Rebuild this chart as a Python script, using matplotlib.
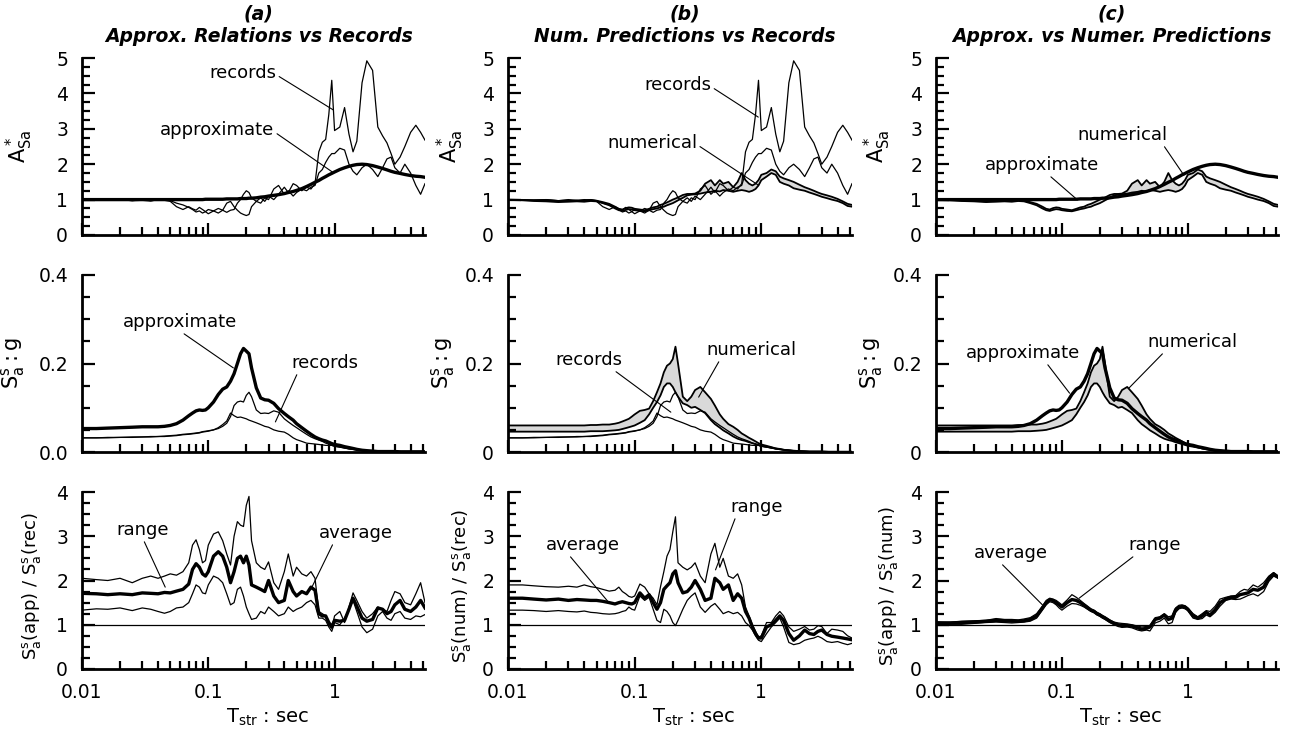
import numpy as np
import matplotlib
matplotlib.use('Agg')
import matplotlib.pyplot as plt
from matplotlib.ticker import FixedLocator, FixedFormatter, MultipleLocator, LogLocator, NullFormatter

plt.rcParams['font.family'] = ['DejaVu Sans']
plt.rcParams['mathtext.fontset'] = 'dejavusans'

# structural period grid (sec), shared by every curve
T = [0.010, 0.013, 0.016, 0.020, 0.025, 0.030, 0.035, 0.040, 0.045, 0.050,
     0.056, 0.063, 0.070, 0.075, 0.080, 0.085, 0.090, 0.095, 0.100, 0.110,
     0.120, 0.130, 0.140, 0.150, 0.160, 0.170, 0.180, 0.190, 0.200, 0.210,
     0.220, 0.240, 0.260, 0.280, 0.300, 0.330, 0.360, 0.400, 0.430, 0.470,
     0.500, 0.550, 0.600, 0.650, 0.700, 0.750, 0.800, 0.850, 0.900, 0.950,
     1.00, 1.10, 1.20, 1.30, 1.40, 1.50, 1.65, 1.80, 2.00, 2.20,
     2.40, 2.60, 2.80, 3.00, 3.30, 3.60, 4.00, 4.40, 4.80, 5.20]

# ---- top row : A*_Sa ----
amp_approx = [1.00, 1.00, 1.00, 1.00, 1.00, 1.00, 1.00, 1.00, 1.00, 1.00,
              1.00, 1.00, 1.00, 1.00, 1.00, 1.00, 1.00, 1.01, 1.01, 1.01,
              1.01, 1.01, 1.02, 1.02, 1.02, 1.02, 1.03, 1.03, 1.03, 1.04,
              1.04, 1.05, 1.07, 1.08, 1.10, 1.12, 1.14, 1.17, 1.20, 1.23,
              1.26, 1.31, 1.37, 1.43, 1.49, 1.54, 1.60, 1.65, 1.70, 1.74,
              1.78, 1.85, 1.90, 1.94, 1.97, 1.99, 2.00, 1.99, 1.96, 1.92,
              1.88, 1.84, 1.80, 1.77, 1.74, 1.71, 1.68, 1.66, 1.65, 1.63]
amp_rec1 = [1.00, 0.98, 0.99, 1.00, 0.97, 0.98, 0.96, 1.00, 0.98, 0.95,
            0.80, 0.72, 0.80, 0.74, 0.70, 0.78, 0.72, 0.66, 0.72, 0.68,
            0.75, 0.70, 0.90, 0.95, 0.80, 0.70, 0.62, 0.58, 0.55, 0.58,
            0.80, 0.95, 1.05, 0.95, 1.10, 1.00, 1.15, 1.35, 1.20, 1.45,
            1.40, 1.25, 1.35, 1.30, 1.45, 2.35, 2.62, 2.70, 3.40, 4.37,
            2.95, 3.05, 3.60, 2.85, 2.35, 2.65, 4.30, 4.92, 4.65, 3.05,
            2.80, 2.60, 2.30, 2.00, 2.20, 2.50, 2.90, 3.10, 2.90, 2.68]
amp_rec2 = [1.00, 1.00, 0.98, 1.00, 0.97, 1.00, 0.97, 0.99, 1.00, 0.97,
            0.90, 0.85, 0.78, 0.72, 0.65, 0.68, 0.62, 0.66, 0.60, 0.68,
            0.62, 0.70, 0.64, 0.70, 0.72, 0.90, 1.00, 1.15, 1.25, 1.20,
            1.05, 0.95, 0.90, 1.05, 1.00, 1.30, 1.40, 1.15, 1.25, 1.10,
            1.20, 1.30, 1.25, 1.35, 1.40, 1.75, 1.85, 2.05, 2.20, 2.30,
            2.30, 2.45, 2.40, 2.00, 1.80, 1.70, 1.90, 2.00, 1.85, 1.65,
            1.90, 2.15, 2.20, 1.90, 1.75, 2.00, 1.75, 1.40, 1.15, 1.45]
amp_num_hi = [1.00, 0.99, 0.98, 0.97, 0.95, 0.97, 0.98, 0.97, 0.99, 0.97,
              0.93, 0.88, 0.80, 0.74, 0.72, 0.76, 0.78, 0.77, 0.74, 0.72,
              0.70, 0.74, 0.78, 0.80, 0.85, 0.88, 0.92, 0.96, 1.00, 1.03,
              1.06, 1.13, 1.16, 1.16, 1.17, 1.25, 1.45, 1.55, 1.40, 1.55,
              1.45, 1.50, 1.35, 1.50, 1.75, 1.55, 1.45, 1.40, 1.45, 1.55,
              1.70, 1.75, 1.85, 1.80, 1.65, 1.60, 1.55, 1.50, 1.42, 1.35,
              1.30, 1.25, 1.20, 1.16, 1.12, 1.08, 1.02, 0.95, 0.88, 0.85]
amp_num_lo = [0.99, 0.98, 0.96, 0.95, 0.93, 0.94, 0.95, 0.94, 0.96, 0.95,
              0.90, 0.84, 0.75, 0.70, 0.68, 0.71, 0.73, 0.72, 0.70, 0.68,
              0.67, 0.70, 0.73, 0.75, 0.78, 0.80, 0.84, 0.87, 0.90, 0.94,
              0.98, 1.05, 1.12, 1.14, 1.15, 1.17, 1.20, 1.22, 1.25, 1.23,
              1.27, 1.25, 1.22, 1.25, 1.27, 1.25, 1.22, 1.25, 1.30, 1.40,
              1.55, 1.65, 1.75, 1.70, 1.50, 1.45, 1.40, 1.32, 1.28, 1.25,
              1.20, 1.16, 1.12, 1.08, 1.04, 1.00, 0.96, 0.90, 0.82, 0.80]

# ---- middle row : Sa / g ----
sa_approx = [0.053, 0.053, 0.054, 0.055, 0.056, 0.057, 0.057, 0.057, 0.058, 0.060,
             0.064, 0.072, 0.082, 0.088, 0.093, 0.095, 0.094, 0.095, 0.100, 0.113,
             0.130, 0.142, 0.147, 0.160, 0.177, 0.200, 0.222, 0.234, 0.228, 0.222,
             0.190, 0.145, 0.122, 0.118, 0.117, 0.110, 0.098, 0.087, 0.080, 0.072,
             0.064, 0.055, 0.047, 0.040, 0.034, 0.030, 0.027, 0.025, 0.022, 0.019,
             0.017, 0.015, 0.012, 0.010, 0.008, 0.006, 0.004, 0.003, 0.002, 0.001,
             0.001, 0.001, 0.001, 0.001, 0.0005, 0.0005, 0.0005, 0.0005, 0.0005, 0.0005]
sa_rec1 = [0.032, 0.032, 0.033, 0.033, 0.034, 0.034, 0.035, 0.035, 0.036, 0.037,
           0.038, 0.040, 0.041, 0.042, 0.043, 0.044, 0.046, 0.047, 0.048, 0.050,
           0.053, 0.058, 0.065, 0.080, 0.105, 0.113, 0.115, 0.113, 0.128, 0.135,
           0.125, 0.095, 0.087, 0.088, 0.087, 0.093, 0.090, 0.075, 0.068, 0.060,
           0.055, 0.047, 0.040, 0.034, 0.030, 0.027, 0.024, 0.020, 0.018, 0.015,
           0.013, 0.011, 0.009, 0.007, 0.006, 0.005, 0.004, 0.003, 0.002, 0.002,
           0.001, 0.001, 0.001, 0.001, 0.001, 0.0005, 0.0005, 0.0005, 0.0005, 0.0005]
sa_rec2 = [0.032, 0.032, 0.032, 0.033, 0.033, 0.034, 0.034, 0.035, 0.035, 0.036,
           0.037, 0.039, 0.040, 0.041, 0.042, 0.043, 0.045, 0.046, 0.047, 0.050,
           0.055, 0.062, 0.070, 0.088, 0.082, 0.078, 0.079, 0.077, 0.075, 0.072,
           0.070, 0.066, 0.062, 0.058, 0.056, 0.050, 0.047, 0.045, 0.040, 0.032,
           0.028, 0.024, 0.020, 0.019, 0.018, 0.017, 0.016, 0.015, 0.015, 0.015,
           0.013, 0.011, 0.009, 0.007, 0.006, 0.005, 0.004, 0.003, 0.002, 0.002,
           0.001, 0.001, 0.001, 0.001, 0.001, 0.0005, 0.0005, 0.0005, 0.0005, 0.0005]
sa_num_hi = [0.060, 0.060, 0.060, 0.060, 0.060, 0.060, 0.060, 0.060, 0.061, 0.061,
             0.062, 0.062, 0.064, 0.066, 0.069, 0.072, 0.075, 0.080, 0.085, 0.093,
             0.095, 0.098, 0.115, 0.135, 0.155, 0.180, 0.195, 0.200, 0.210, 0.238,
             0.200, 0.125, 0.115, 0.125, 0.140, 0.147, 0.135, 0.120, 0.105, 0.085,
             0.075, 0.063, 0.057, 0.050, 0.042, 0.037, 0.032, 0.028, 0.024, 0.020,
             0.017, 0.014, 0.011, 0.008, 0.007, 0.005, 0.004, 0.003, 0.002, 0.001,
             0.001, 0.001, 0.001, 0.001, 0.0005, 0.0005, 0.0005, 0.0005, 0.0005, 0.0005]
sa_num_lo = [0.046, 0.046, 0.046, 0.046, 0.046, 0.046, 0.046, 0.046, 0.047, 0.047,
             0.047, 0.048, 0.049, 0.050, 0.052, 0.054, 0.056, 0.058, 0.060, 0.066,
             0.072, 0.085, 0.100, 0.113, 0.128, 0.147, 0.155, 0.155, 0.147, 0.135,
             0.125, 0.110, 0.106, 0.100, 0.102, 0.095, 0.088, 0.072, 0.063, 0.055,
             0.049, 0.042, 0.035, 0.030, 0.027, 0.025, 0.022, 0.020, 0.018, 0.016,
             0.014, 0.012, 0.010, 0.008, 0.006, 0.005, 0.003, 0.002, 0.002, 0.001,
             0.001, 0.001, 0.001, 0.001, 0.0005, 0.0005, 0.0005, 0.0005, 0.0005, 0.0005]

# ---- bottom row : spectral ratios ----
ratio_a_avg = [1.71, 1.70, 1.68, 1.70, 1.68, 1.72, 1.71, 1.70, 1.73, 1.72,
               1.76, 1.80, 1.92, 2.25, 2.38, 2.30, 2.15, 2.10, 2.20, 2.55,
               2.65, 2.55, 2.30, 1.95, 2.20, 2.50, 2.55, 2.40, 2.55, 2.35,
               1.90, 1.85, 1.80, 1.75, 2.00, 1.65, 1.50, 1.55, 2.00, 1.75,
               1.65, 1.75, 1.70, 1.85, 1.78, 1.25, 1.20, 1.20, 1.05, 0.95,
               1.10, 1.08, 1.10, 1.35, 1.60, 1.42, 1.15, 1.08, 1.12, 1.38,
               1.35, 1.25, 1.30, 1.45, 1.55, 1.35, 1.30, 1.40, 1.55, 1.38]
ratio_a_hi = [2.05, 2.02, 2.00, 2.05, 1.95, 2.05, 2.10, 2.05, 2.10, 2.15,
              2.12, 2.20, 2.40, 2.80, 2.92, 2.70, 2.40, 2.45, 2.80, 3.05,
              3.10, 2.90, 2.60, 2.35, 3.00, 3.33, 3.25, 3.22, 3.70, 3.90,
              2.90, 2.40, 2.30, 2.25, 2.42, 1.95, 1.80, 2.20, 2.60, 2.10,
              2.30, 2.15, 2.10, 2.20, 2.05, 1.30, 1.25, 1.20, 1.00, 0.92,
              1.20, 1.30, 1.05, 1.40, 1.72, 1.55, 1.30, 1.15, 1.25, 1.40,
              1.35, 1.30, 1.55, 1.75, 1.70, 1.50, 1.45, 1.70, 1.95, 1.50]
ratio_a_lo = [1.33, 1.36, 1.35, 1.38, 1.32, 1.38, 1.35, 1.30, 1.26, 1.30,
              1.38, 1.40, 1.50, 1.70, 1.90, 1.85, 1.72, 1.70, 1.90, 2.10,
              2.05, 1.95, 1.70, 1.45, 1.50, 1.80, 1.85, 1.65, 1.40, 1.25,
              1.12, 1.15, 1.30, 1.25, 1.40, 1.30, 1.20, 1.25, 1.40, 1.30,
              1.35, 1.40, 1.50, 1.55, 1.45, 1.15, 1.15, 1.10, 0.95, 0.85,
              1.05, 1.00, 1.15, 1.35, 1.55, 1.30, 0.95, 0.82, 0.90, 1.20,
              1.30, 1.15, 1.10, 1.25, 1.30, 1.15, 1.12, 1.20, 1.18, 1.23]

ratio_b_avg = [1.60, 1.60, 1.58, 1.56, 1.58, 1.55, 1.57, 1.56, 1.55, 1.55,
               1.53, 1.50, 1.47, 1.50, 1.52, 1.50, 1.48, 1.47, 1.50, 1.72,
               1.60, 1.68, 1.50, 1.35, 1.50, 1.80, 1.88, 1.95, 2.15, 2.22,
               1.95, 1.72, 1.75, 1.85, 2.00, 1.80, 1.55, 1.60, 2.05, 1.95,
               1.80, 1.90, 1.55, 1.70, 1.60, 1.30, 1.15, 0.95, 0.80, 0.70,
               0.70, 0.95, 1.00, 1.10, 1.20, 1.10, 0.80, 0.65, 0.75, 0.88,
               0.80, 0.78, 0.85, 0.88, 0.78, 0.74, 0.72, 0.70, 0.68, 0.66]
ratio_b_hi = [1.90, 1.90, 1.88, 1.86, 1.85, 1.87, 1.85, 1.90, 1.86, 1.84,
              1.80, 1.76, 1.78, 1.85, 1.75, 1.70, 1.64, 1.62, 1.65, 1.92,
              1.85, 1.70, 1.60, 1.45, 1.86, 2.20, 2.55, 2.70, 3.10, 3.44,
              2.40, 2.30, 2.24, 2.30, 2.40, 2.10, 1.95, 2.60, 2.84, 2.30,
              2.50, 2.10, 2.05, 2.15, 1.90, 1.40, 1.20, 1.00, 0.85, 0.72,
              0.75, 1.05, 1.05, 1.20, 1.30, 1.20, 0.95, 0.85, 0.90, 0.96,
              0.88, 0.90, 0.98, 0.96, 0.80, 0.90, 0.88, 0.85, 0.75, 0.70]
ratio_b_lo = [1.33, 1.33, 1.32, 1.30, 1.32, 1.30, 1.29, 1.31, 1.28, 1.27,
              1.25, 1.24, 1.25, 1.27, 1.30, 1.32, 1.40, 1.35, 1.33, 1.65,
              1.55, 1.62, 1.35, 1.10, 1.05, 1.35, 1.30, 1.20, 1.05, 0.98,
              1.10, 1.35, 1.55, 1.65, 1.72, 1.40, 1.28, 1.42, 1.48, 1.35,
              1.25, 1.30, 1.25, 1.28, 1.20, 1.05, 0.98, 0.88, 0.75, 0.65,
              0.62, 0.80, 0.95, 1.05, 1.15, 0.95, 0.60, 0.55, 0.58, 0.65,
              0.68, 0.70, 0.74, 0.70, 0.62, 0.60, 0.62, 0.58, 0.55, 0.58]

ratio_c_avg = [1.03, 1.04, 1.05, 1.06, 1.08, 1.10, 1.09, 1.08, 1.08, 1.09,
               1.12, 1.20, 1.38, 1.50, 1.56, 1.55, 1.50, 1.45, 1.40, 1.50,
               1.57, 1.55, 1.50, 1.44, 1.38, 1.33, 1.30, 1.25, 1.22, 1.18,
               1.15, 1.08, 1.03, 1.00, 0.98, 0.98, 0.97, 0.93, 0.90, 0.92,
               0.95, 1.12, 1.15, 1.22, 1.12, 1.15, 1.34, 1.40, 1.41, 1.40,
               1.35, 1.20, 1.15, 1.20, 1.28, 1.22, 1.34, 1.50, 1.58, 1.62,
               1.62, 1.68, 1.70, 1.72, 1.80, 1.78, 1.85, 2.05, 2.15, 2.08]
ratio_c_hi = [1.07, 1.06, 1.08, 1.09, 1.10, 1.14, 1.12, 1.12, 1.11, 1.13,
              1.16, 1.25, 1.42, 1.55, 1.60, 1.58, 1.55, 1.50, 1.45, 1.56,
              1.68, 1.62, 1.55, 1.48, 1.42, 1.36, 1.33, 1.28, 1.25, 1.21,
              1.18, 1.11, 1.06, 1.04, 1.03, 1.02, 1.00, 0.97, 0.95, 0.96,
              0.98, 1.16, 1.18, 1.25, 1.18, 1.20, 1.38, 1.44, 1.45, 1.43,
              1.38, 1.25, 1.18, 1.25, 1.32, 1.30, 1.42, 1.58, 1.62, 1.65,
              1.66, 1.75, 1.80, 1.78, 1.90, 1.85, 1.95, 2.10, 2.18, 2.10]
ratio_c_lo = [1.00, 1.01, 1.01, 1.03, 1.05, 1.06, 1.05, 1.04, 1.05, 1.06,
              1.08, 1.15, 1.33, 1.45, 1.52, 1.50, 1.45, 1.38, 1.33, 1.42,
              1.48, 1.47, 1.44, 1.40, 1.35, 1.30, 1.27, 1.22, 1.19, 1.15,
              1.12, 1.05, 1.00, 0.96, 0.94, 0.95, 0.93, 0.88, 0.86, 0.88,
              0.86, 1.04, 1.08, 1.15, 1.02, 1.05, 1.28, 1.36, 1.38, 1.36,
              1.32, 1.15, 1.12, 1.14, 1.22, 1.18, 1.28, 1.42, 1.55, 1.58,
              1.57, 1.58, 1.62, 1.66, 1.70, 1.65, 1.75, 1.98, 2.10, 2.05]

titles = [('(a)', 'Approx. Relations vs Records'),
          ('(b)', 'Num. Predictions vs Records'),
          ('(c)', 'Approx. vs Numer. Predictions')]
ratio_labels = [r'$\mathregular{S^s_a}$(app) / $\mathregular{S^s_a}$(rec)',
                r'$\mathregular{S^s_a}$(num) / $\mathregular{S^s_a}$(rec)',
                r'$\mathregular{S^s_a}$(app) / $\mathregular{S^s_a}$(num)']

THIN, MID, THICK = 0.9, 1.3, 2.4
BAND = '#d9d9d9'

# panel frames in pixels of the 1295x735 picture
W, H = 1295, 735
cols = [(82, 425), (508, 852), (936, 1278)]
rows = [(58, 235), (275, 452), (492, 669)]

# right edge of each y label, in axes fraction  [row][col]
ylab_x = [[-0.137, -0.122, -0.126],
          [-0.160, -0.148, -0.149],
          [-0.114, -0.102, -0.106]]

fig = plt.figure(figsize=(12.95, 7.35), dpi=100)
axs = [[None] * 3 for _ in range(3)]
for r, (t, b) in enumerate(rows):
    for c, (l, rr) in enumerate(cols):
        axs[r][c] = fig.add_axes([l / W, 1 - b / H, (rr - l) / W, (b - t) / H])


def style(ax, row, col):
    ax.set_xscale('log')
    ax.set_xlim(0.01, 5.2)
    for s in ['top', 'right']:
        ax.spines[s].set_visible(False)
    for s in ['left', 'bottom']:
        ax.spines[s].set_linewidth(2.0)
    ax.xaxis.set_major_locator(FixedLocator([0.01, 0.1, 1]))
    ax.xaxis.set_minor_locator(LogLocator(base=10, subs=np.arange(2, 10)))
    ax.xaxis.set_minor_formatter(NullFormatter())
    if row == 2:
        ax.xaxis.set_major_formatter(FixedFormatter(['0.01', '0.1', '1']))
        ax.set_xlabel(r'$\mathregular{T_{str}}$ : sec', fontsize=14)
        ax.xaxis.set_label_coords(0.54, -0.215)
    else:
        ax.xaxis.set_major_formatter(NullFormatter())
    if row == 0:
        ax.set_ylim(0, 5)
        ax.yaxis.set_major_locator(MultipleLocator(1))
        ax.yaxis.set_minor_locator(MultipleLocator(0.25))
        ax.set_ylabel(r'$\mathregular{A^*_{Sa}}$', fontsize=15)
    elif row == 1:
        ax.set_ylim(0, 0.4)
        ax.yaxis.set_major_locator(FixedLocator([0, 0.2, 0.4]))
        zero = '0.0' if col == 0 else '0'
        ax.yaxis.set_major_formatter(FixedFormatter([zero, '0.2', '0.4']))
        ax.yaxis.set_minor_locator(MultipleLocator(0.05))
        ax.set_ylabel(r'$\mathregular{S^s_a : g}$', fontsize=15)
    else:
        ax.set_ylim(0, 4)
        ax.yaxis.set_major_locator(MultipleLocator(1))
        ax.yaxis.set_minor_locator(MultipleLocator(0.25))
        ax.set_ylabel(ratio_labels[col], fontsize=13)
        ax.axhline(1, color='black', lw=THIN)
    ax.yaxis.set_label_coords(ylab_x[row][col], 0.5 if row < 2 else 0.47)
    ax.tick_params(which='major', direction='in', length=9, width=1.6,
                   labelsize=13.5, pad=10)
    ax.tick_params(which='minor', direction='in', length=5.5, width=1.6)


def note(ax, text, xy, xytext, relpos):
    ax.annotate(text, xy=xy, xycoords='data', xytext=xytext,
                textcoords='axes fraction', ha='center', va='center',
                fontsize=13,
                arrowprops=dict(arrowstyle='-', color='black', lw=0.8,
                                shrinkA=0, shrinkB=0, relpos=relpos))


def band(ax, hi, lo):
    ax.fill_between(T, lo, hi, color=BAND, lw=0, zorder=1)
    ax.plot(T, hi, color='black', lw=MID, zorder=3)
    ax.plot(T, lo, color='black', lw=MID, zorder=3)


for r in range(3):
    for c in range(3):
        style(axs[r][c], r, c)

for c, (lab, name) in enumerate(titles):
    ax = axs[0][c]
    ax.text(0.515, 1.25, lab, transform=ax.transAxes, ha='center', va='center',
            fontsize=13.5, fontweight='bold', fontstyle='italic')
    ax.text(0.515, 1.12, name, transform=ax.transAxes, ha='center', va='center',
            fontsize=13.5, fontweight='bold', fontstyle='italic')

# (a) top
ax = axs[0][0]
ax.plot(T, amp_rec1, color='black', lw=THIN)
ax.plot(T, amp_rec2, color='black', lw=THIN)
ax.plot(T, amp_approx, color='black', lw=THICK)
note(ax, 'records', (0.98, 3.53), (0.469, 0.915), (1.0, 0.4))
note(ax, 'approximate', (0.96, 1.78), (0.394, 0.593), (1.0, 0.4))

# (b) top
ax = axs[0][1]
band(ax, amp_num_hi, amp_num_lo)
ax.plot(T, amp_rec1, color='black', lw=THIN)
ax.plot(T, amp_rec2, color='black', lw=THIN)
note(ax, 'records', (0.946, 3.33), (0.494, 0.847), (1.0, 0.4))
note(ax, 'numerical', (0.946, 1.41), (0.419, 0.52), (1.0, 0.4))

# (c) top
ax = axs[0][2]
band(ax, amp_num_hi, amp_num_lo)
ax.plot(T, amp_approx, color='black', lw=THICK)
note(ax, 'numerical', (0.93, 1.69), (0.544, 0.565), (0.95, 0.0))
note(ax, 'approximate', (0.133, 0.99), (0.31, 0.395), (0.55, 0.0))

# (a) middle
ax = axs[1][0]
ax.plot(T, sa_rec1, color='black', lw=THIN)
ax.plot(T, sa_rec2, color='black', lw=THIN)
ax.plot(T, sa_approx, color='black', lw=THICK)
note(ax, 'approximate', (0.158, 0.19), (0.286, 0.734), (0.5, 0.0))
note(ax, 'records', (0.34, 0.068), (0.708, 0.503), (0.1, 0.0))

# (b) middle
ax = axs[1][1]
band(ax, sa_num_hi, sa_num_lo)
ax.plot(T, sa_rec1, color='black', lw=THIN)
ax.plot(T, sa_rec2, color='black', lw=THIN)
note(ax, 'records', (0.193, 0.09), (0.235, 0.52), (0.85, 0.0))
note(ax, 'numerical', (0.32, 0.124), (0.709, 0.576), (0.15, 0.0))

# (c) middle
ax = axs[1][2]
band(ax, sa_num_hi, sa_num_lo)
ax.plot(T, sa_approx, color='black', lw=THICK)
note(ax, 'approximate', (0.115, 0.133), (0.254, 0.559), (0.7, 0.0))
note(ax, 'numerical', (0.342, 0.145), (0.749, 0.621), (0.2, 0.0))

# bottom row: range (thin) and average (thick)
bottom = [(ratio_a_avg, ratio_a_hi, ratio_a_lo),
          (ratio_b_avg, ratio_b_hi, ratio_b_lo),
          (ratio_c_avg, ratio_c_hi, ratio_c_lo)]
for c, (avg, hi, lo) in enumerate(bottom):
    ax = axs[2][c]
    ax.plot(T, hi, color='black', lw=THIN)
    ax.plot(T, lo, color='black', lw=THIN)
    ax.plot(T, avg, color='black', lw=THICK)

note(axs[2][0], 'range', (0.0456, 1.85), (0.178, 0.785), (0.5, 0.0))
note(axs[2][0], 'average', (0.646, 1.79), (0.799, 0.768), (0.2, 0.0))
note(axs[2][1], 'average', (0.063, 1.49), (0.218, 0.70), (0.3, 0.0))
note(axs[2][1], 'range', (0.435, 2.24), (0.724, 0.915), (0.1, 0.0))
note(axs[2][2], 'average', (0.070, 1.45), (0.219, 0.655), (0.35, 0.0))
note(axs[2][2], 'range', (0.137, 1.60), (0.64, 0.70), (0.15, 0.0))

fig.savefig('out.png', dpi=100)
